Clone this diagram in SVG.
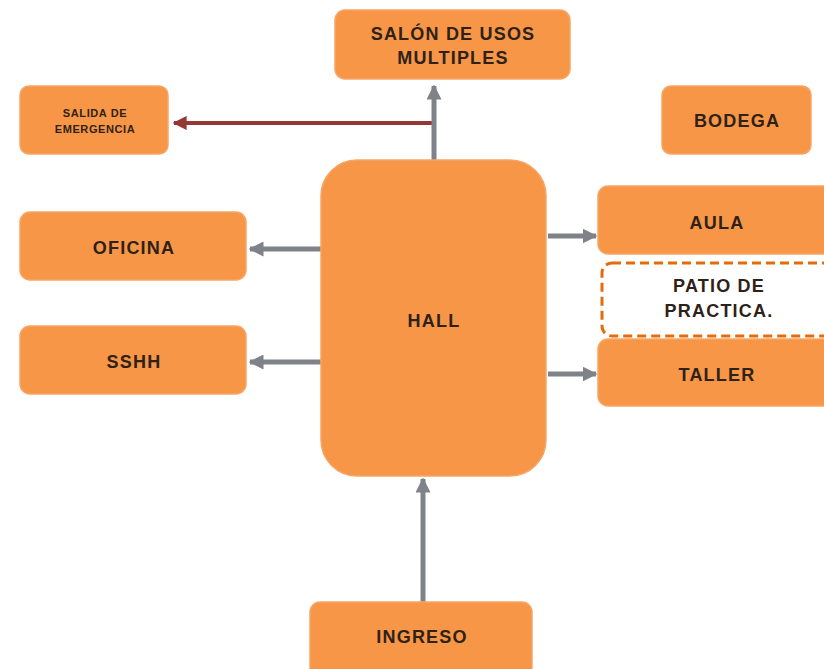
<svg xmlns="http://www.w3.org/2000/svg" width="824" height="669" viewBox="0 0 824 669">
<style>
.n{fill:#F79646;stroke:#F6A565;stroke-width:1.5}
.d{fill:#FFFFFF;stroke:#E46C0A;stroke-width:3;stroke-dasharray:9,5}
.t{font-family:"Liberation Sans",Arial,sans-serif;font-weight:bold;font-size:18px;letter-spacing:1.2px;fill:#2E2218;text-anchor:middle}
.s{font-size:11px;letter-spacing:0.6px}
.g{stroke:#7F8288;stroke-width:5;fill:none}
.r{stroke:#953735;stroke-width:4;fill:none}
</style>
<defs>
<marker id="ag" viewBox="0 0 10 10" refX="9" refY="5" markerWidth="3" markerHeight="3" orient="auto" markerUnits="strokeWidth"><path d="M0,0 L10,5 L0,10 z" fill="#7F8288"/></marker>
<marker id="ar" viewBox="0 0 10 10" refX="9" refY="5" markerWidth="3.5" markerHeight="3.5" orient="auto" markerUnits="strokeWidth"><path d="M0,0 L10,5 L0,10 z" fill="#953735"/></marker>
</defs>
<rect width="824" height="669" fill="#FFFFFF"/>
<g id="connectors">
<line class="r" x1="433" y1="123" x2="174" y2="123" marker-end="url(#ar)"/>
<line class="g" x1="434" y1="160" x2="434" y2="86" marker-end="url(#ag)"/>
<line class="g" x1="321" y1="249" x2="250" y2="249" marker-end="url(#ag)"/>
<line class="g" x1="321" y1="362" x2="250" y2="362" marker-end="url(#ag)"/>
<line class="g" x1="548" y1="236" x2="596" y2="236" marker-end="url(#ag)"/>
<line class="g" x1="548" y1="374" x2="596" y2="374" marker-end="url(#ag)"/>
<line class="g" x1="423" y1="603" x2="423" y2="479" marker-end="url(#ag)"/>
</g>
<g id="salon"><rect class="n" x="335" y="10" width="235" height="69" rx="10"/><text class="t" x="453" y="40">SALÓN DE USOS</text><text class="t" x="453" y="64">MULTIPLES</text></g>
<g id="salida"><rect class="n" x="20" y="86" width="148" height="68" rx="9"/><text class="t s" x="95" y="117">SALIDA DE</text><text class="t s" x="95" y="133">EMERGENCIA</text></g>
<g id="bodega"><rect class="n" x="662" y="86" width="149" height="68" rx="9"/><text class="t" x="737" y="127">BODEGA</text></g>
<g id="hall"><rect class="n" x="321" y="160" width="225" height="316" rx="36"/><text class="t" x="434" y="327">HALL</text></g>
<g id="oficina"><rect class="n" x="20" y="212" width="226" height="68" rx="10"/><text class="t" x="134" y="254">OFICINA</text></g>
<g id="sshh"><rect class="n" x="20" y="326" width="226" height="68" rx="10"/><text class="t" x="134" y="368">SSHH</text></g>
<g id="aula"><rect class="n" x="598" y="186" width="240" height="68" rx="10"/><text class="t" x="717" y="229">AULA</text></g>
<g id="patio"><rect class="d" x="602" y="263" width="240" height="73" rx="10"/><text class="t" x="719" y="292">PATIO DE</text><text class="t" x="719" y="317">PRACTICA.</text></g>
<g id="taller"><rect class="n" x="598" y="339" width="240" height="67" rx="10"/><text class="t" x="717" y="381">TALLER</text></g>
<g id="ingreso"><rect class="n" x="310" y="602" width="222" height="80" rx="10"/><text class="t" x="422" y="643">INGRESO</text></g>
</svg>
